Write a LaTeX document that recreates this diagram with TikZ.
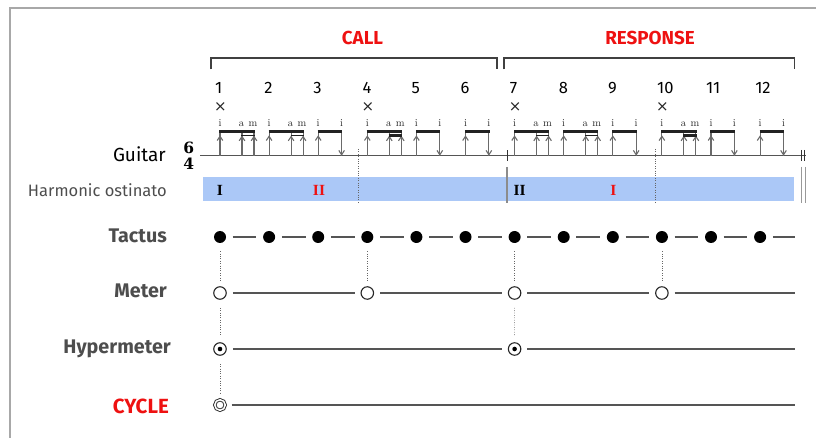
\documentclass[tikz,border=0pt]{standalone}
\usepackage{fontspec}
\setsansfont{Fira Sans}
\newfontfamily\romfont{Liberation Serif}
\newfontfamily\symfont{DejaVu Sans}
\newfontfamily\tsfont{DejaVu Serif}
\definecolor{framegray}{HTML}{A8A8A8}
\definecolor{lab}{HTML}{4D4D4D}
\definecolor{hblue}{HTML}{ABC8F7}
\definecolor{cred}{HTML}{EE1111}
\definecolor{stemgray}{HTML}{6A6A6A}
\definecolor{linegray}{HTML}{555555}
\definecolor{beamc}{HTML}{222222}
\newcommand\gtrA[2]{%
  \draw[gstem] (#1,155.7) -- (#1,131.5);
  \draw[gstem] ({#1+22},155.7) -- ({#1+22},131.5);
  \draw[gstem] ({#1+34},155.7) -- ({#1+34},131.5);
  \draw[gstem] ({#1-2.8},140.5) -- (#1,136.3) -- ({#1+2.8},140.5);
  \draw[gstem] ({#1+22-2.8},140.8) -- ({#1+22},136.6) -- ({#1+22+2.8},140.8);
  \draw[gstem] ({#1+34-2.8},140.8) -- ({#1+34},136.6) -- ({#1+34+2.8},140.8);
  \draw[gbeam] ({#1-0.6},131.5) -- ({#1+34.6},131.5);
  \draw[gbeam, line width=#2] ({#1+21.4},135.6) -- ({#1+34.6},135.6);
  \node[fing] at (#1,126.5) {i};
  \node[fing] at ({#1+21.5},126.5) {a};
  \node[fing] at ({#1+33},126.5) {m};
}
\newcommand\gtrB[1]{%
  \draw[gstem] (#1,155.7) -- (#1,131.5);
  \draw[gstem] ({#1+23.4},155.7) -- ({#1+23.4},131.5);
  \draw[gstem] ({#1-2.8},140.5) -- (#1,136.3) -- ({#1+2.8},140.5);
  \draw[gstem] ({#1+23.4-2.8},150.4) -- ({#1+23.4},154.8) -- ({#1+23.4+2.8},150.4);
  \draw[gbeam] ({#1-0.6},131.5) -- ({#1+24},131.5);
  \node[fing] at (#1,126.5) {i};
  \node[fing] at ({#1+23.4},126.5) {i};
}
\begin{document}
\begin{tikzpicture}[x=1pt,y=-1pt,
  gstem/.style={draw=stemgray, line width=1.1pt},
  gbeam/.style={draw=beamc, line width=2.3pt},
  fing/.style={anchor=base, inner sep=0pt, font=\fontsize{10.5}{10.5}\selectfont, text=black!85},
  numlbl/.style={anchor=base west, inner sep=0pt, font=\sffamily\fontsize{16.5}{16.5}\selectfont},
  rowlbl/.style={anchor=base east, inner sep=0pt, text=lab, font=\sffamily\bfseries\fontsize{19.7}{19.7}\selectfont},
  titlelbl/.style={anchor=base, inner sep=0pt, text=cred, font=\sffamily\bfseries\fontsize{18.8}{18.8}\selectfont},
  roman/.style={anchor=center, inner sep=0pt, font=\romfont\bfseries\fontsize{15.5}{15.5}\selectfont},
  tslbl/.style={anchor=base, inner sep=0pt, font=\tsfont\bfseries\fontsize{15.5}{15.5}\selectfont},
  tdot/.style={circle, fill=black, inner sep=0pt, minimum size=12pt},
  mcirc/.style={circle, draw=black!85, fill=white, line width=1.1pt, inner sep=0pt, minimum size=12.5pt},
  hcirc/.style={circle, draw=black!85, fill=white, line width=1.1pt, inner sep=0pt, minimum size=12.5pt,
     path picture={\fill[black] (path picture bounding box.center) circle (2.3pt);}},
  ccirc/.style={circle, draw=black!85, line width=0.9pt, double=white, double distance=1.5pt, inner sep=0pt, minimum size=10.5pt},
  rowline/.style={draw=linegray, line width=1.3pt},
  vdots/.style={draw=black!60, line width=0.7pt, dash pattern=on 0.8pt off 1.6pt},
  bracketc/.style={draw=black!75, line width=1.1pt}
]
\useasboundingbox (0,0) rectangle (816,438);
% frame
\draw[framegray, line width=1.6pt] (10,438) -- (10,8) -- (816,8);

% titles and brackets
\node[titlelbl] (call) at (362.5,45) {CALL};
\node[titlelbl] (resp) at (650,44.5) {RESPONSE};
\draw[bracketc] (211,69.5) -- (211,58) -- (497,58) -- (497,69.5);
\draw[bracketc] (504,69.5) -- (504,58) -- (794.3,58) -- (794.3,69.5);

% beat numbers, crosses, tactus dots
\foreach \k in {1,...,12}{
  \pgfmathsetmacro\xx{220+(\k-1)*49.1}
  \node[numlbl] (n\k) at ({\xx-5},94) {\k};
  \node[tdot] (t\k) at (\xx,237) {};
}
\foreach \k in {1,4,7,10}{
  \pgfmathsetmacro\xx{220+(\k-1)*49.1}
  \node[inner sep=0pt, text=black!85, font=\symfont\fontsize{15}{15}\selectfont] (x\k) at ({\xx+0.5},107.5) {×};
  \node[mcirc] (m\k) at (\xx,293) {};
}

% guitar staff
\node[anchor=base east, inner sep=0pt, font=\sffamily\fontsize{19}{19}\selectfont, text=black] (guitar) at (166,162) {Guitar};
\node[tslbl] (ts6) at (188.8,153.3) {6};
\node[tslbl] (ts4) at (188.8,170) {4};
\draw[draw=linegray, line width=1.2pt] (200,155.7) -- (806,155.7);
\foreach \k/\w in {1/1.4,2/1.4,4/3,7/1.4,8/1.4,10/3}{
  \pgfmathsetmacro\xx{220+(\k-1)*49.1}
  \gtrA{\xx}{\w pt}
}
\foreach \k in {3,5,6,9,11,12}{
  \pgfmathsetmacro\xx{220+(\k-1)*49.1}
  \gtrB{\xx}
}

% harmonic ostinato
\node[anchor=base east, inner sep=0pt, font=\sffamily\fontsize{16.5}{16.5}\selectfont, text=lab] (harm) at (167,196.5) {Harmonic ostinato};
\node[fill=hblue, anchor=north west, inner sep=0pt, minimum width=591pt, minimum height=23.5pt] (hbar) at (203,177) {};
\node[roman, text=black] (r1) at (220,190) {I};
\node[roman, text=cred] (r2) at (319,190) {II};
\node[roman, text=black] (r3) at (519.7,190) {II};
\node[roman, text=cred] (r4) at (613.3,190) {I};

% barlines
\draw[vdots] (358.5,149) -- (358.5,203);
\draw[vdots] (655.3,149) -- (655.3,203);
\draw[draw=black!80, line width=1pt] (507,150.5) -- (507,161);
\draw[draw=black!45, line width=1.2pt] (507,167) -- (507,203);
\draw[draw=black!80, line width=1pt] (801.7,150) -- (801.7,161) (804.7,150) -- (804.7,161);
\draw[draw=black!40, line width=1.1pt] (801.6,167) -- (801.6,203.5) (805.2,167) -- (805.2,203.5);

% tactus row
\node[rowlbl] (tactus) at (167,242.3) {Tactus};
\foreach \k [evaluate=\k as \kk using int(\k+1)] in {1,...,11}{
  \draw[rowline, shorten <=6.5pt, shorten >=6.5pt] (t\k) -- (t\kk);
}
\coordinate (tend) at (795,237);
\draw[rowline, shorten <=6.5pt] (t12) -- (tend);

% meter row
\node[rowlbl] (meter) at (167,297.3) {Meter};
\coordinate (mend) at (795,293);
\draw[rowline, shorten <=6pt, shorten >=6pt] (m1) -- (m4);
\draw[rowline, shorten <=6pt, shorten >=6pt] (m4) -- (m7);
\draw[rowline, shorten <=6pt, shorten >=6pt] (m7) -- (m10);
\draw[rowline, shorten <=6pt] (m10) -- (mend);

% hypermeter row
\node[rowlbl] (hyper) at (171,353) {Hypermeter};
\node[hcirc] (h1) at (220,349) {};
\node[hcirc] (h7) at (514.6,349) {};
\coordinate (hend) at (795,349);
\draw[rowline, shorten <=6pt, shorten >=6pt] (h1) -- (h7);
\draw[rowline, shorten <=6pt] (h7) -- (hend);

% cycle row
\node[rowlbl, text=cred, font=\sffamily\bfseries\fontsize{20.5}{20.5}\selectfont] (cycle) at (169,413.3) {CYCLE};
\node[ccirc] (c1) at (220,405) {};
\coordinate (cend) at (795,405);
\draw[rowline, shorten <=6pt] (c1) -- (cend);

% dotted alignments
\foreach \k in {1,4,7,10}{
  \draw[vdots, shorten <=8pt, shorten >=6pt] (t\k) -- (m\k);
}
\draw[vdots, shorten <=8pt, shorten >=6pt] (m1) -- (h1);
\draw[vdots, shorten <=8pt, shorten >=6pt] (m7) -- (h7);
\draw[vdots, shorten <=8pt, shorten >=6pt] (h1) -- (c1);
\end{tikzpicture}
\end{document}
